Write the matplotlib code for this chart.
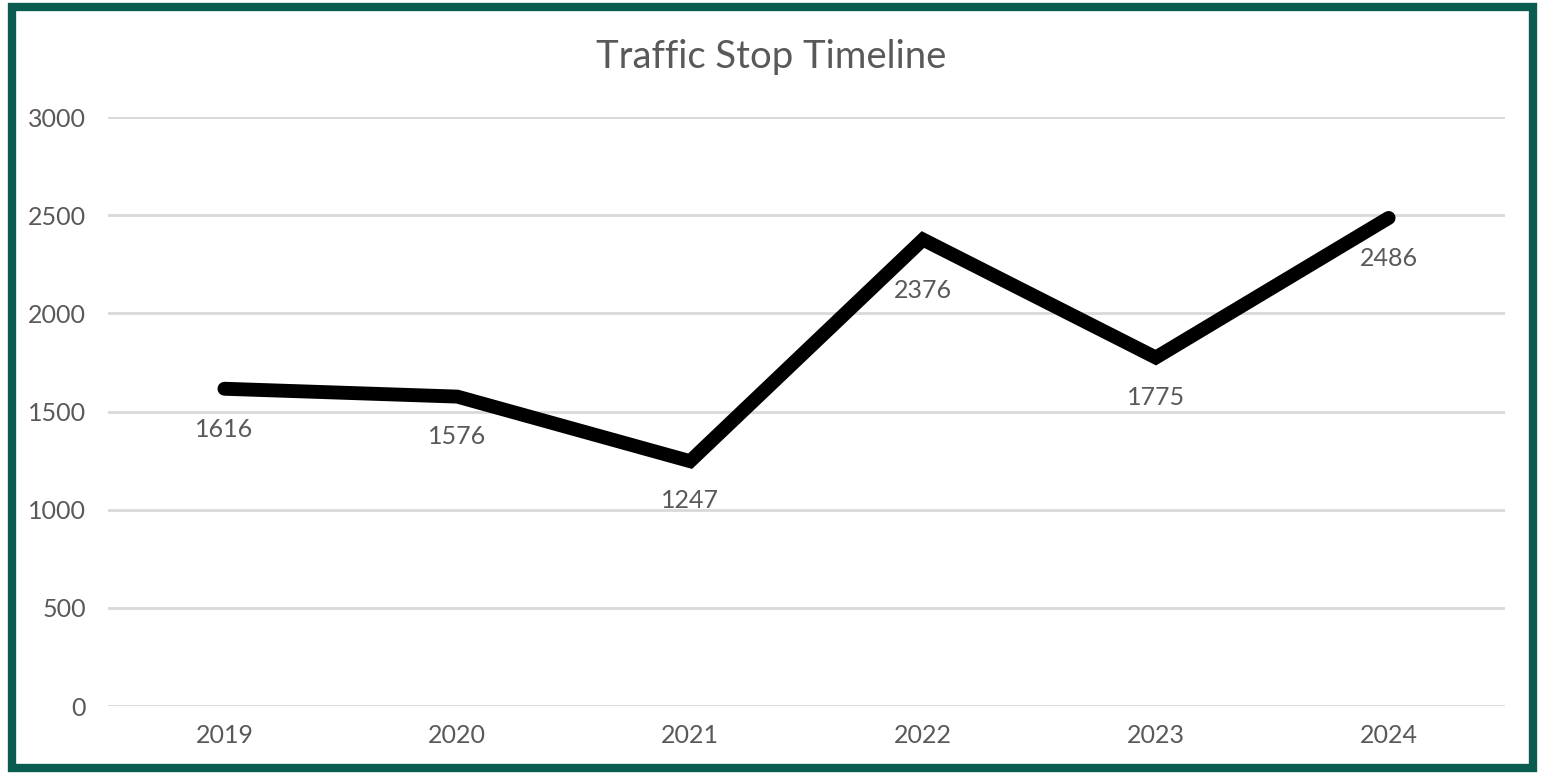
import matplotlib.pyplot as plt
from matplotlib.patches import Rectangle

years = ["2019", "2020", "2021", "2022", "2023", "2024"]
stops = [1616, 1576, 1247, 2376, 1775, 2486]
y_ticks = [0, 500, 1000, 1500, 2000, 2500, 3000]
# how far below the point each value label sits (points)
label_drop = [29, 29, 28, 37, 29, 29]

plt.rcParams["font.family"] = ["Lato", "DejaVu Sans"]

fig = plt.figure(figsize=(15.43, 7.75), dpi=100)
ax = fig.add_axes([0.070, 0.089, 0.9054, 0.760])

x = range(len(years))
ax.plot(x, stops, color="black", linewidth=10, solid_capstyle="round",
        solid_joinstyle="miter", zorder=3)

for xi, v, d in zip(x, stops, label_drop):
    ax.annotate(str(v), (xi, v), xytext=(0, -d), textcoords="offset points",
                ha="center", va="center", fontsize=18, color="#595959")

ax.set_xlim(-0.5, len(years) - 0.5)
ax.set_ylim(0, 3000)
ax.set_xticks(list(x))
ax.set_xticklabels(years)
ax.set_yticks(y_ticks)
ax.tick_params(axis="both", length=0, labelsize=18, labelcolor="#595959")
ax.tick_params(axis="y", pad=16)
ax.tick_params(axis="x", pad=13)
ax.yaxis.grid(True, color="#d9d9d9", linewidth=2)
ax.set_axisbelow(True)
for s in ax.spines.values():
    s.set_visible(False)

fig.text(0.5, 0.926, "Traffic Stop Timeline", ha="center", va="center",
         fontsize=27.5, color="#595959")

# dark green frame round the chart
fig.patches.append(Rectangle((12 / 1543, 7 / 775), 1521 / 1543, 761 / 775,
                             transform=fig.transFigure, fill=False,
                             edgecolor="#0b5c50", linewidth=6))

fig.savefig("out.png", dpi=100, facecolor="white")
